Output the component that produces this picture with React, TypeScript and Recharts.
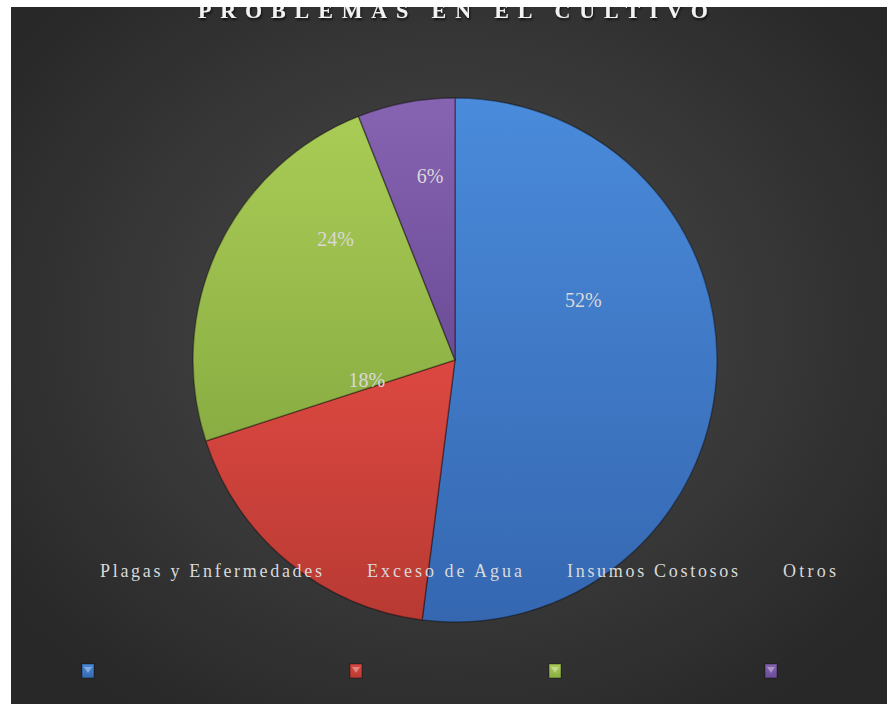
import { Cell, Pie, PieChart } from "recharts";

const categories = ["Plagas y Enfermedades", "Exceso de Agua", "Insumos Costosos", "Otros"];
const shares = [52, 18, 24, 6];
const title = "PROBLEMAS EN EL CULTIVO";

const colorsTop = ["#4a8bdb", "#dc4841", "#a9cc56", "#8664b2"];
const colorsBottom = ["#3567b1", "#b83a33", "#8aad43", "#6c4b97"];

// where excel put the percent labels (angle in degrees, fraction of radius)
const labelAngle = [25, 193, 134.5, 97.7];
const labelDist = [0.54, 0.345, 0.65, 0.71];

// legend layout (x of text, text width, marker center)
const legendTextX = [89, 356, 556, 772];
const legendTextW = [222, 155, 171, 53];
const legendMarkX = [77, 345, 544, 760];

const W = 876;
const H = 697;
const FONT = "'Liberation Serif', 'Times New Roman', serif";

const data = categories.map((name, i) => ({ name, value: shares[i] }));

const renderLabel = (props: any) => {
  const { cx, cy, outerRadius, index, value } = props;
  const a = (labelAngle[index] * Math.PI) / 180;
  const r = outerRadius * labelDist[index];
  return (
    <text
      x={cx + r * Math.cos(a)}
      y={cy - r * Math.sin(a)}
      textAnchor="middle"
      dominantBaseline="central"
      fill="#d9d9d9"
      fontSize={20}
      fontFamily={FONT}
    >
      {value}%
    </text>
  );
};

const App = () => {
  return (
    <div
      style={{
        position: "absolute",
        left: 11,
        top: 7,
        width: W,
        height: H,
        overflow: "hidden",
        background:
          "radial-gradient(ellipse 62% 66% at 50% 46%, #494949 0%, #3c3c3c 45%, #282828 100%)",
      }}
    >
      <PieChart width={W} height={H} margin={{ top: 0, left: 0, right: 0, bottom: 0 }}>
        <defs>
          {colorsTop.map((c, i) => (
            <linearGradient key={i} id={`slice${i}`} x1="0" y1="0" x2="0" y2="1">
              <stop offset="0%" stopColor={c} />
              <stop offset="100%" stopColor={colorsBottom[i]} />
            </linearGradient>
          ))}
        </defs>
        <Pie
          data={data}
          dataKey="value"
          nameKey="name"
          cx={444}
          cy={353}
          outerRadius={262}
          startAngle={90}
          endAngle={-270}
          stroke="rgba(0,0,0,0.35)"
          strokeWidth={1.5}
          label={renderLabel}
          labelLine={false}
          isAnimationActive={false}
        >
          {data.map((_, i) => (
            <Cell key={i} fill={`url(#slice${i})`} />
          ))}
        </Pie>
      </PieChart>
      <svg
        width={W}
        height={H}
        style={{ position: "absolute", left: 0, top: 0, pointerEvents: "none" }}
      >
        <defs>
          <filter id="titleShadow" x="-5%" y="-50%" width="110%" height="200%">
            <feDropShadow dx="1" dy="2" stdDeviation="1.2" floodColor="#000" floodOpacity="0.7" />
          </filter>
          {colorsTop.map((c, i) => (
            <linearGradient key={i} id={`mark${i}`} x1="0" y1="0" x2="0" y2="1">
              <stop offset="0%" stopColor={c} />
              <stop offset="100%" stopColor={colorsBottom[i]} />
            </linearGradient>
          ))}
        </defs>
        <text
          x={187}
          y={11}
          fill="#f2f2f2"
          fontSize={22}
          fontWeight="bold"
          fontFamily={FONT}
          textLength={510}
          lengthAdjust="spacing"
          filter="url(#titleShadow)"
        >
          {title}
        </text>
        {categories.map((name, i) => (
          <text
            key={name}
            x={legendTextX[i]}
            y={570}
            fill="#d9d9d9"
            fontSize={18}
            fontFamily={FONT}
            textLength={legendTextW[i]}
            lengthAdjust="spacing"
          >
            {name}
          </text>
        ))}
        {categories.map((name, i) => (
          <g key={name + "m"}>
            <rect
              x={legendMarkX[i] - 6}
              y={657}
              width={12}
              height={14}
              fill={`url(#mark${i})`}
              stroke="rgba(0,0,0,0.4)"
              strokeWidth={1}
            />
            <polygon
              points={`${legendMarkX[i] - 4},660 ${legendMarkX[i] + 4},660 ${legendMarkX[i]},666`}
              fill="rgba(255,255,255,0.35)"
            />
          </g>
        ))}
      </svg>
    </div>
  );
};

export default App;
